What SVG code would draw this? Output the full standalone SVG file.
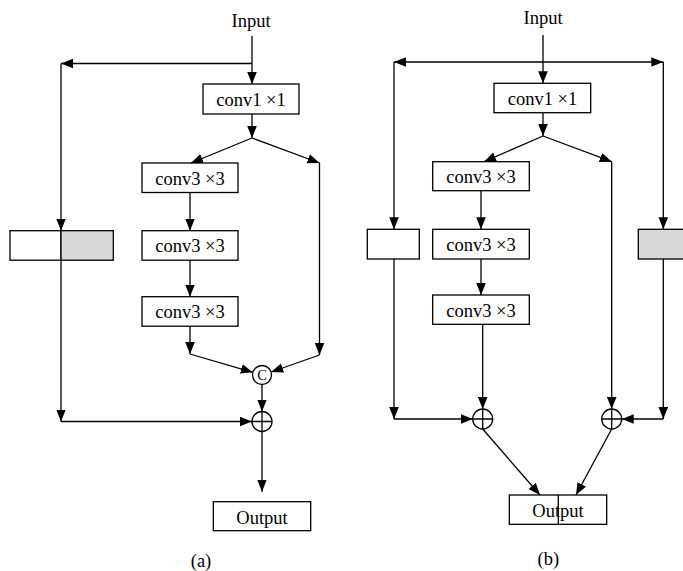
<svg xmlns="http://www.w3.org/2000/svg" width="683" height="571" viewBox="0 0 683 571">
<style>
.box{fill:#fff;stroke:#000;stroke-width:1.3}
.gray{fill:#d9d9d9;stroke:#000;stroke-width:1.3}
.t{font-family:"Liberation Serif","Times New Roman",serif;font-size:18.5px;fill:#000;text-anchor:middle}
.c{fill:none;stroke:#000;stroke-width:1.3}
.a{fill:none;stroke:#000;stroke-width:1.3;marker-end:url(#ah)}
.op{fill:#fff;stroke:#000;stroke-width:1.3}
</style>
<defs>
<marker id="ah" viewBox="0 0 10 8" refX="10" refY="4" markerWidth="12" markerHeight="10" markerUnits="userSpaceOnUse" orient="auto">
<path d="M0,0 L10,4 L0,8 Z" fill="#000"/>
</marker>
</defs>
<rect width="683" height="571" fill="#fff"/>

<!-- ===== Diagram (a) ===== -->
<g id="a-input"><text class="t" x="251" y="26.5">Input</text></g>
<g id="a-conv1"><rect class="box" x="203" y="84" width="96" height="30"/><text class="t" x="251" y="106">conv1 ×1</text></g>
<g id="a-conv3-1"><rect class="box" x="142" y="163" width="96" height="29.5"/><text class="t" x="190" y="184.5">conv3 ×3</text></g>
<g id="a-conv3-2"><rect class="box" x="142" y="230.7" width="96" height="29.5"/><text class="t" x="190" y="252">conv3 ×3</text></g>
<g id="a-conv3-3"><rect class="box" x="142" y="296.7" width="96" height="29.5"/><text class="t" x="190" y="318">conv3 ×3</text></g>
<g id="a-split"><rect class="box" x="10" y="230.7" width="51" height="29.5"/><rect class="gray" x="61" y="230.7" width="52.3" height="29.5"/></g>
<g id="a-concat"><circle class="op" cx="262" cy="375" r="9.5"/><text x="262" y="380" font-family="Liberation Serif, serif" font-size="14.5" text-anchor="middle">C</text></g>
<g id="a-add"><circle class="op" cx="262" cy="421.5" r="10"/><path class="c" d="M252,421.5 H272 M262,411.5 V431.5"/></g>
<g id="a-output"><rect class="box" x="213.3" y="501.7" width="97.4" height="29"/><text class="t" x="262" y="523.5">Output</text></g>
<g id="a-label"><text class="t" x="201" y="566.5">(a)</text></g>

<!-- ===== Diagram (b) ===== -->
<g id="b-input"><text class="t" x="543" y="24">Input</text></g>
<g id="b-conv1"><rect class="box" x="494" y="83.3" width="96.7" height="29.4"/><text class="t" x="542.5" y="105">conv1 ×1</text></g>
<g id="b-conv3-1"><rect class="box" x="432.7" y="161.7" width="96.6" height="29"/><text class="t" x="481" y="183">conv3 ×3</text></g>
<g id="b-conv3-2"><rect class="box" x="432.7" y="229.3" width="96.6" height="29.7"/><text class="t" x="481" y="251">conv3 ×3</text></g>
<g id="b-conv3-3"><rect class="box" x="432.7" y="295" width="96.6" height="29.3"/><text class="t" x="481" y="316.5">conv3 ×3</text></g>
<g id="b-left"><rect class="box" x="367.3" y="229.3" width="52" height="29.7"/></g>
<g id="b-right"><rect class="gray" x="638.3" y="229.3" width="50" height="29.7"/></g>
<g id="b-add-left"><circle class="op" cx="482.7" cy="419" r="10"/><path class="c" d="M472.7,419 H492.7 M482.7,409 V429"/></g>
<g id="b-add-right"><circle class="op" cx="611.7" cy="419" r="10"/><path class="c" d="M601.7,419 H621.7 M611.7,409 V429"/></g>
<g id="b-output"><rect class="box" x="509.3" y="495" width="97.4" height="29.3"/><line class="c" x1="558.3" y1="495" x2="558.3" y2="524.3"/><text class="t" x="558" y="516.5">Output</text></g>
<g id="b-label"><text class="t" x="548.3" y="565">(b)</text></g>

<g id="connectors">
<!-- (a) -->
<path class="a" d="M252,36 V84"/>
<path class="a" d="M252,63.5 H61"/>
<path class="a" d="M61,63.5 V230.7"/>
<path class="a" d="M252,114 V138"/>
<path class="a" d="M252,138 L191,163"/>
<path class="a" d="M252,138 L319.5,163"/>
<path class="a" d="M319.5,163 V355"/>
<path class="a" d="M190,192.5 V230.7"/>
<path class="a" d="M190,260.2 V296.7"/>
<path class="a" d="M190,326.2 V354"/>
<path class="a" d="M190,354 L252.8,372.3"/>
<path class="a" d="M319.5,355 L271.2,372"/>
<path class="a" d="M262,384.5 V411.5"/>
<path class="a" d="M61,260.2 V421.5"/>
<path class="a" d="M61,421.5 H252"/>
<path class="a" d="M262,431.5 V491.7"/>
<!-- (b) -->
<path class="a" d="M543,35 V83.3"/>
<path class="a" d="M543,62 H394"/>
<path class="a" d="M543,62 H663.3"/>
<path class="a" d="M394,62 V229.3"/>
<path class="a" d="M663.3,62 V229.3"/>
<path class="a" d="M543,112.7 V136"/>
<path class="a" d="M543,136 L484,161.7"/>
<path class="a" d="M543,136 L611.7,161.7"/>
<path class="a" d="M481,190.7 V229.3"/>
<path class="a" d="M481,259 V295"/>
<path class="a" d="M482.7,324.3 V409"/>
<path class="a" d="M611.7,161.7 V409"/>
<path class="a" d="M394,259 V419"/>
<path class="a" d="M394,419 H472.7"/>
<path class="a" d="M663.3,259 V419"/>
<path class="a" d="M663.3,419 H621.7"/>
<path class="a" d="M482.7,429 L540,495"/>
<path class="a" d="M611.7,429 L576,495"/>
</g>
</svg>
